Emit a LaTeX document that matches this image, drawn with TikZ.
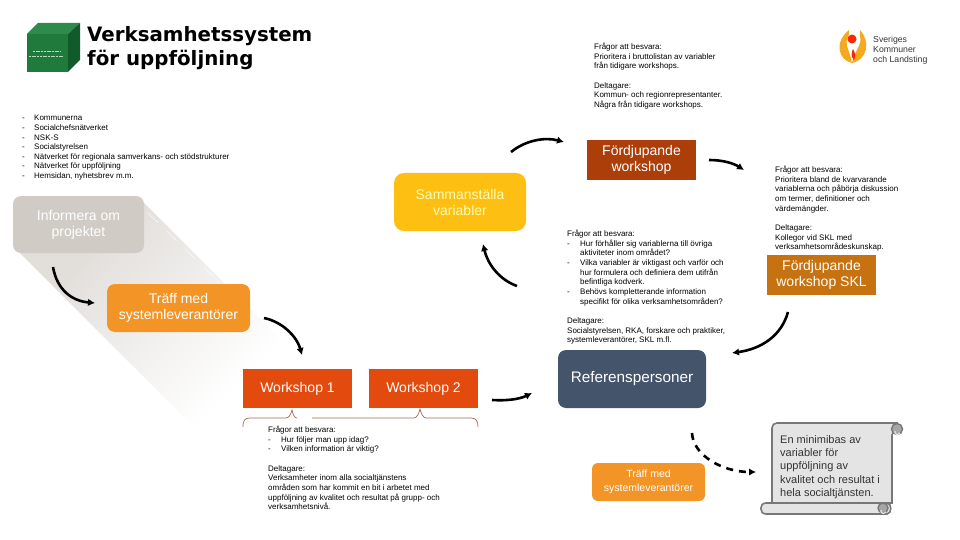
\documentclass[tikz,border=0pt]{standalone}
\usepackage{fontspec}
\setmainfont{Liberation Sans}
\newfontfamily\titlefont{DejaVu Sans}
\usetikzlibrary{arrows.meta}
\definecolor{cubefront}{HTML}{1F7A3C}
\definecolor{cubetop}{HTML}{2E8B4C}
\definecolor{cubeside}{HTML}{115A2A}
\definecolor{brick}{HTML}{AC3E0A}
\definecolor{ochre}{HTML}{C77210}
\definecolor{slate}{HTML}{44546A}
\definecolor{flame}{HTML}{F39426}
\definecolor{sun}{HTML}{FDBF12}
\definecolor{stone}{HTML}{D0CBC5}
\definecolor{redorange}{HTML}{E34A0E}
\definecolor{scrollgray}{HTML}{E4E4E4}
\definecolor{scrollline}{HTML}{777777}
\definecolor{bracebrown}{HTML}{A8674A}
\newcommand{\dashitem}{\makebox[13pt][l]{-}}
\newcommand{\dashgap}{\hspace*{13pt}}
\begin{document}
\begin{tikzpicture}[x=1pt,y=-1pt,
    body/.style={anchor=north west,inner sep=0pt,align=left,font=\fontsize{8}{9.65}\selectfont},
    stage/.style={inner sep=0pt,align=center,text=white,font=\fontsize{14}{16}\selectfont},
    flow/.style={line width=2.6pt,-{Latex[length=7pt,width=7.5pt]}}]
  \useasboundingbox (0,0) rectangle (960,540);
  \shade[top color=stone!62,bottom color=white,middle color=white,shading angle=45] (144,203) -- (481,540) -- (307,540) -- (20,253) -- cycle;
  \draw[white,dashed,dash pattern=on 14pt off 12pt] (148,213) -- (220,283);

  \fill[cubetop] (27,34) -- (38,23) -- (80,23) -- (68,34) -- cycle;
  \fill[cubeside] (68,34) -- (80,23) -- (80,60) -- (68,72) -- cycle;
  \fill[cubefront] (27,34) rectangle (68,72);
  \draw[white!70!cubefront,line width=0.7pt,dash pattern=on 2pt off 0.7pt] (33,51.5) -- (61,51.5);
  \draw[white!70!cubefront,line width=0.7pt,dash pattern=on 2pt off 0.7pt] (29,56) -- (64,56);
  \node[anchor=west,inner sep=0pt,font=\titlefont\bfseries\fontsize{19.8}{24}\selectfont] (title) at (87,36) {Verksamhetssystem};
  \node[anchor=west,inner sep=0pt,font=\titlefont\bfseries\fontsize{19.8}{24}\selectfont] (subtitle) at (87,60) {för uppföljning};

  \node[body] (channels) at (22,115) {\makebox[12pt][l]{-}Kommunerna\\ \makebox[12pt][l]{-}Socialchefsnätverket\\ \makebox[12pt][l]{-}NSK-S\\ \makebox[12pt][l]{-}Socialstyrelsen\\ \makebox[12pt][l]{-}Nätverket för regionala samverkans- och stödstrukturer\\ \makebox[12pt][l]{-}Nätverket för uppföljning\\ \makebox[12pt][l]{-}Hemsidan, nyhetsbrev m.m.};

  \node[body] (deepnotes) at (594,43) {Frågor att besvara:\\ Prioritera i bruttolistan av variabler\\ från tidigare workshops.\\[9.65pt] Deltagare:\\ Kommun- och regionrepresentanter.\\ Några från tidigare workshops.};
  \node[body] (sklnotes) at (775,166) {Frågor att besvara:\\ Prioritera bland de kvarvarande\\ variablerna och påbörja diskussion\\ om termer, definitioner och\\ värdemängder.\\[9.65pt] Deltagare:\\ Kollegor vid SKL med\\ verksamhetsområdeskunskap.};
  \node[body] (midnotes) at (567,230) {Frågor att besvara:\\ \dashitem Hur förhåller sig variablerna till övriga\\ \dashgap aktiviteter inom området?\\ \dashitem Vilka variabler är viktigast och varför och\\ \dashgap hur formulera och definiera dem utifrån\\ \dashgap befintliga kodverk.\\ \dashitem Behövs kompletterande information\\ \dashgap specifikt för olika verksamhetsområden?\\[9.65pt] Deltagare:\\ Socialstyrelsen, RKA, forskare och praktiker,\\ systemleverantörer, SKL m.fl.};
  \node[body] (wsnotes) at (268,426) {Frågor att besvara:\\ \dashitem Hur följer man upp idag?\\ \dashitem Vilken information är viktig?\\[9.65pt] Deltagare:\\ Verksamheter inom alla socialtjänstens\\ områden som har kommit en bit i arbetet med\\ uppföljning av kvalitet och resultat på grupp- och\\ verksamhetsnivå.};

  \node[stage,fill=stone,rounded corners=8pt,minimum width=131pt,minimum height=57pt,text=white] (inform) at (78.5,224.5) {Informera om\\projektet};
  \node[stage,fill=flame,rounded corners=8pt,minimum width=143pt,minimum height=48pt] (vendors) at (178.5,308) {Träff med\\systemleverantörer};
  \node[stage,fill=redorange,minimum width=109pt,minimum height=39pt] (ws1) at (297.5,388.5) {Workshop 1};
  \node[stage,fill=redorange,minimum width=109pt,minimum height=39pt] (ws2) at (423.5,388.5) {Workshop 2};
  \node[stage,fill=sun,rounded corners=10pt,minimum width=132pt,minimum height=58pt,text=yellow!30] (compile) at (460,202) {Sammanställa\\variabler};
  \node[stage,fill=brick,minimum width=109pt,minimum height=40pt] (deep) at (641.5,160) {Fördjupande\\workshop};
  \node[stage,fill=ochre,minimum width=109pt,minimum height=40pt] (deepskl) at (821.5,275) {Fördjupande\\workshop SKL};
  \node[stage,fill=slate,rounded corners=8pt,minimum width=148pt,minimum height=58pt,font=\fontsize{15.3}{18}\selectfont] (refs) at (632,379) {Referenspersoner};
  \node[stage,fill=flame,rounded corners=6pt,minimum width=113pt,minimum height=38pt,font=\fontsize{10.5}{14}\selectfont] (vendors2) at (648.5,482) {Träff med\\systemleverantörer};

  \draw[bracebrown,line width=0.7pt] (243,427) .. controls (243,420) and (245,418) .. (250,418) -- (286,418) .. controls (289,418) and (291,414) .. (292,410) .. controls (293,414) and (294,418) .. (297,418);
  \draw[bracebrown,line width=0.7pt] (312,418) -- (414,418) .. controls (417,418) and (419,413) .. (420,409) .. controls (421,413) and (423,418) .. (426,418) -- (471,418) .. controls (476,418) and (478,421) .. (478,427);

  \fill[scrollgray,draw=scrollline,line width=1.6pt] (772,503) -- (772,428) .. controls (772,425) and (774,423) .. (777,423) -- (897,423) -- (892,435) -- (892,503) -- cycle;
  \fill[scrollgray,draw=scrollline,line width=1.6pt] (766,503) -- (887,503) .. controls (892,503) and (892,514) .. (887,514) -- (766,514) .. controls (759,514) and (759,503) .. (766,503) -- cycle;
  \fill[gray!70,draw=scrollline,line width=1.4pt] (897,429) circle (5.5);
  \fill[gray!70,draw=scrollline,line width=1.4pt] (883,508) circle (5);
  \draw[scrollgray,line width=1.2pt] (895,431) arc (200:20:2.5);
  \draw[scrollgray,line width=1.2pt] (881,510) arc (200:20:2.5);
  \node[anchor=north west,inner sep=0pt,align=left,text=black!80,font=\fontsize{11}{13.3}\selectfont] (summary) at (780,435) {En minimibas av\\variabler för\\uppföljning av\\kvalitet och resultat i\\hela socialtjänsten.};

  \fill[flame!80!yellow] (849,30) .. controls (850,36) and (845,40) .. (847,46) .. controls (849,52) and (851,57) .. (852,63) .. controls (838,60) and (834,42) .. (849,30) -- cycle;
  \fill[flame!80!yellow] (860,30) .. controls (859,36) and (862,40) .. (859,46) .. controls (856,52) and (853,57) .. (852,63) .. controls (867,60) and (871,42) .. (860,30) -- cycle;
  \fill[red!70!orange] (852,39) circle (4.5);
  \fill[red!70!orange] (853,49) .. controls (851,53) and (851,57) .. (854,60) .. controls (856,56) and (855,52) .. (853,49) -- cycle;
  \node[anchor=north west,inner sep=0pt,align=left,text=black!80,font=\fontsize{8.7}{10}\selectfont] (sklname) at (873,35.5) {Sveriges\\Kommuner\\och Landsting};

  \coordinate (informout) at (53,267);
  \coordinate (vendorsin) at (95,303);
  \coordinate (vendorsout) at (264,318);
  \coordinate (wsin) at (302,355);
  \coordinate (wsout) at (492,400);
  \coordinate (wsend) at (532,393);
  \coordinate (compilein) at (483,244);
  \coordinate (compilefrom) at (517,286);
  \coordinate (compileout) at (511,152);
  \coordinate (deepin) at (564,142);
  \coordinate (deepout) at (709,160);
  \coordinate (sklin) at (744,170);
  \coordinate (sklout) at (788,312);
  \coordinate (refsin) at (732,353);
  \coordinate (refsout) at (692,433);
  \coordinate (summaryin) at (756,472);
  \draw[flow] (informout) .. controls (57,290) and (72,301) .. (vendorsin);
  \draw[flow] (vendorsout) .. controls (283,322) and (297,337) .. (wsin);
  \draw[flow] (wsout) .. controls (507,401) and (520,399) .. (wsend);
  \draw[flow] (compilefrom) .. controls (500,280) and (488,265) .. (compilein);
  \draw[flow] (compileout) .. controls (526,140) and (545,137) .. (deepin);
  \draw[flow] (deepout) .. controls (722,160) and (733,163) .. (sklin);
  \draw[flow] (sklout) .. controls (781,337) and (760,349) .. (refsin);
  \draw[flow,dashed,dash pattern=on 7pt off 6pt] (refsout) .. controls (693,455) and (722,472) .. (summaryin);
\end{tikzpicture}
\end{document}
